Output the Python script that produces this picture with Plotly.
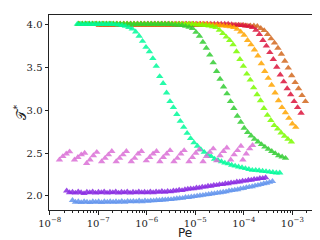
import numpy as np
import plotly.graph_objects as go

# ---------------- data (x as log10(Pe), y = T*) ----------------
springgreen_range = (-7.43, -3.26)
springgreen_y = [4.0, 4.0, 4.0, 4.0, 4.0, 4.0, 4.0, 4.0, 4.0, 4.0,
                 4.0, 3.995, 3.99, 3.985, 3.975, 3.96, 3.945, 3.91, 3.86, 3.80,
                 3.73, 3.68, 3.60, 3.51, 3.39, 3.31, 3.20, 3.10, 3.03, 2.95,
                 2.87, 2.80, 2.73, 2.67, 2.62, 2.58, 2.54, 2.51, 2.48, 2.46,
                 2.43, 2.415, 2.40, 2.385, 2.375, 2.36, 2.35, 2.34, 2.33, 2.32,
                 2.31, 2.30, 2.30, 2.295, 2.29, 2.285, 2.28, 2.275, 2.27, 2.27]

limegreen_range = (-7.40, -3.14)
limegreen_y = [4.0, 4.0, 4.0, 4.0, 4.0, 4.0, 4.0, 4.0, 4.0, 4.0,
               4.0, 4.0, 4.0, 4.0, 4.0, 4.0, 4.0, 4.0, 4.0, 4.0,
               4.0, 4.0, 4.0, 4.0, 4.0, 4.0, 4.0, 3.995, 3.99, 3.99,
               3.985, 3.975, 3.965, 3.95, 3.905, 3.86, 3.79, 3.72, 3.64, 3.55,
               3.45, 3.36, 3.27, 3.19, 3.10, 3.02, 2.93, 2.86, 2.79, 2.74,
               2.70, 2.66, 2.63, 2.60, 2.57, 2.545, 2.52, 2.495, 2.47, 2.455,
               2.44]

lawngreen_range = (-7.40, -3.02)
lawngreen_y = [4.0, 4.0, 4.0, 4.0, 4.0, 4.0, 4.0, 4.0, 4.0, 4.0,
               4.0, 4.0, 4.0, 4.0, 4.0, 4.0, 4.0, 4.0, 4.0, 4.0,
               4.0, 4.0, 4.0, 4.0, 4.0, 4.0, 4.0, 4.0, 4.0, 4.0,
               4.0, 4.0, 4.0, 4.0, 3.995, 3.99, 3.99, 3.985, 3.98, 3.97,
               3.96, 3.93, 3.89, 3.85, 3.81, 3.76, 3.68, 3.59, 3.51, 3.42,
               3.35, 3.26, 3.18, 3.11, 3.02, 2.94, 2.88, 2.82, 2.78, 2.735,
               2.695, 2.66, 2.63]

orange_range = (-7.40, -2.93)
orange_y = [4.0, 4.0, 4.0, 4.0, 4.0, 4.0, 4.0, 4.0, 4.0, 4.0,
            4.0, 4.0, 4.0, 4.0, 4.0, 4.0, 4.0, 4.0, 4.0, 4.0,
            4.0, 4.0, 4.0, 4.0, 4.0, 4.0, 4.0, 4.0, 4.0, 4.0,
            4.0, 4.0, 4.0, 4.0, 4.0, 4.0, 4.0, 4.0, 3.995, 3.99,
            3.99, 3.985, 3.98, 3.975, 3.97, 3.96, 3.94, 3.91, 3.87, 3.81,
            3.76, 3.70, 3.63, 3.54, 3.45, 3.37, 3.29, 3.20, 3.11, 3.03,
            2.97, 2.905, 2.84, 2.80]

crimson_range = (-7.40, -2.82)
crimson_y = [4.0, 4.0, 4.0, 4.0, 4.0, 4.0, 4.0, 4.0, 4.0, 4.0,
             4.0, 4.0, 4.0, 4.0, 4.0, 4.0, 4.0, 4.0, 4.0, 4.0,
             4.0, 4.0, 4.0, 4.0, 4.0, 4.0, 4.0, 4.0, 4.0, 4.0,
             4.0, 4.0, 4.0, 4.0, 4.0, 4.0, 4.0, 4.0, 4.0, 4.0,
             4.0, 4.0, 4.0, 4.0, 3.995, 3.99, 3.99, 3.985, 3.98, 3.975,
             3.96, 3.93, 3.88, 3.81, 3.745, 3.67, 3.59, 3.50, 3.41, 3.33,
             3.25, 3.18, 3.10, 3.03, 2.965]

chocolate_range = (-6.98, -2.73)
chocolate_y = [3.985, 3.985, 3.985, 3.985, 3.985, 3.985, 3.985, 3.985, 3.985, 3.985,
               3.985, 3.985, 3.985, 3.985, 3.985, 3.985, 3.985, 3.985, 3.985, 3.985,
               3.985, 3.985, 3.985, 3.985, 3.985, 3.985, 3.985, 3.985, 3.985, 3.985,
               3.985, 3.985, 3.985, 3.985, 3.985, 3.985, 3.985, 3.985, 3.985, 3.985,
               3.985, 3.985, 3.985, 3.98, 3.98, 3.98, 3.975, 3.95, 3.925, 3.88,
               3.83, 3.78, 3.72, 3.65, 3.57, 3.49, 3.40, 3.32, 3.25, 3.17,
               3.10]

blueviolet_range = (-7.65, -3.55)
blueviolet_y = [2.06, 2.04, 2.045, 2.035, 2.05, 2.04, 2.03, 2.045, 2.04, 2.05,
                2.035, 2.045, 2.04, 2.05, 2.035, 2.045, 2.04, 2.05, 2.035, 2.045,
                2.04, 2.05, 2.035, 2.045, 2.04, 2.05, 2.04, 2.045, 2.04, 2.05,
                2.04, 2.05, 2.045, 2.055, 2.045, 2.055, 2.05, 2.06, 2.06, 2.07,
                2.065, 2.075, 2.08, 2.085, 2.085, 2.095, 2.095, 2.105, 2.105, 2.115,
                2.115, 2.125, 2.125, 2.135, 2.135, 2.145, 2.145, 2.155, 2.155, 2.165,
                2.165, 2.175, 2.175, 2.185, 2.185, 2.195, 2.195, 2.205, 2.205, 2.215]

cornflower_range = (-7.53, -3.41)
cornflower_y = [1.95, 1.93, 1.935, 1.925, 1.935, 1.93, 1.925, 1.935, 1.93, 1.935,
                1.925, 1.935, 1.93, 1.935, 1.93, 1.935, 1.93, 1.94, 1.93, 1.94,
                1.935, 1.94, 1.935, 1.945, 1.935, 1.945, 1.94, 1.945, 1.945, 1.95,
                1.95, 1.955, 1.955, 1.96, 1.96, 1.965, 1.97, 1.975, 1.975, 1.985,
                1.985, 1.99, 1.995, 2.0, 2.005, 2.01, 2.015, 2.02, 2.025, 2.03,
                2.035, 2.04, 2.045, 2.05, 2.06, 2.065, 2.07, 2.075, 2.085, 2.09,
                2.10, 2.105, 2.11, 2.12, 2.125, 2.135, 2.145, 2.15, 2.16, 2.17]

orchid_logpe = [-7.80, -7.73, -7.66, -7.59,
                -7.49, -7.42, -7.35, -7.28,
                -7.24, -7.17, -7.10, -7.03,
                -6.93, -6.86, -6.79, -6.72,
                -6.63, -6.56, -6.49, -6.42,
                -6.32, -6.25, -6.18, -6.11,
                -6.01, -5.94, -5.87, -5.80,
                -5.73, -5.66, -5.59, -5.52,
                -5.44, -5.37, -5.30, -5.23,
                -5.13, -5.06, -4.99, -4.92,
                -4.84, -4.77, -4.70, -4.63,
                -4.56, -4.49, -4.42, -4.35,
                -4.27, -4.20, -4.13, -4.06,
                -4.02, -3.95, -3.88, -3.82]
orchid_y = [2.42, 2.46, 2.49, 2.515,
            2.42, 2.45, 2.48, 2.50,
            2.38, 2.42, 2.47, 2.51,
            2.40, 2.44, 2.48, 2.52,
            2.40, 2.44, 2.48, 2.52,
            2.40, 2.44, 2.49, 2.52,
            2.41, 2.45, 2.49, 2.52,
            2.40, 2.45, 2.49, 2.53,
            2.40, 2.44, 2.49, 2.53,
            2.40, 2.45, 2.50, 2.54,
            2.40, 2.46, 2.51, 2.55,
            2.41, 2.47, 2.52, 2.56,
            2.42, 2.48, 2.53, 2.58,
            2.42, 2.49, 2.55, 2.59]

x_tick_exponents = [-8, -7, -6, -5, -4, -3]
y_ticks = [2.0, 2.5, 3.0, 3.5, 4.0]

# ---------------- figure ----------------
def grid(rng, ys):
    return 10 ** np.linspace(rng[0], rng[1], len(ys))

series = [
    ("#D2691E", grid(chocolate_range, chocolate_y), chocolate_y),
    ("#DC143C", grid(crimson_range, crimson_y), crimson_y),
    ("#FFA500", grid(orange_range, orange_y), orange_y),
    ("#7CFC00", grid(lawngreen_range, lawngreen_y), lawngreen_y),
    ("#32CD32", grid(limegreen_range, limegreen_y), limegreen_y),
    ("#00FA9A", grid(springgreen_range, springgreen_y), springgreen_y),
    ("#DA70D6", 10 ** np.array(orchid_logpe), orchid_y),
    ("#8A2BE2", grid(blueviolet_range, blueviolet_y), blueviolet_y),
    ("#6495ED", grid(cornflower_range, cornflower_y), cornflower_y),
]

fig = go.Figure()
for color, xs, ys in series:
    fig.add_trace(go.Scatter(
        x=xs, y=ys, mode="markers",
        marker=dict(symbol="triangle-up", size=6.5, color=color, opacity=0.85,
                    line=dict(width=0)),
        showlegend=False, hoverinfo="skip"))

minor_vals = [m * 10.0 ** e for e in range(-9, -1) for m in range(2, 10)]

tick_font = dict(family="DejaVu Serif, serif", size=10, color="#222")
fig.update_layout(
    width=320, height=240,
    margin=dict(l=41, r=8, t=7, b=38),
    paper_bgcolor="white", plot_bgcolor="white",
    xaxis=dict(
        type="log", range=[-8.015, -2.43],
        tickvals=[10.0 ** e for e in x_tick_exponents],
        ticktext=["10<sup>−%d</sup>" % (-e) for e in x_tick_exponents],
        ticks="outside", ticklen=3.5, tickcolor="#222", tickwidth=0.8,
        minor=dict(tickvals=minor_vals, ticks="outside", ticklen=2,
                   tickcolor="#222", tickwidth=0.6),
        showline=True, linecolor="#222", linewidth=1, mirror=True,
        showgrid=False, zeroline=False, tickfont=tick_font,
    ),
    yaxis=dict(
        range=[1.837, 4.105],
        tickvals=y_ticks, ticktext=["%.1f" % v for v in y_ticks],
        ticks="outside", ticklen=3.5, tickcolor="#222", tickwidth=0.8,
        showline=True, linecolor="#222", linewidth=1, mirror=True,
        showgrid=False, zeroline=False, tickfont=tick_font,
    ),
    annotations=[
        dict(text="Pe", xref="paper", yref="paper", x=0.502, y=-0.118,
             xanchor="center", yanchor="middle", showarrow=False,
             font=dict(family="DejaVu Sans, sans-serif", size=12, color="#222")),
        dict(text="𝒯<sup>*</sup>", xref="paper", yref="paper", x=-0.107, y=0.50,
             xanchor="center", yanchor="middle", showarrow=False, textangle=-90,
             font=dict(family="DejaVu Serif, serif", size=13, color="#222")),
    ],
)

fig.write_html("out.html")
